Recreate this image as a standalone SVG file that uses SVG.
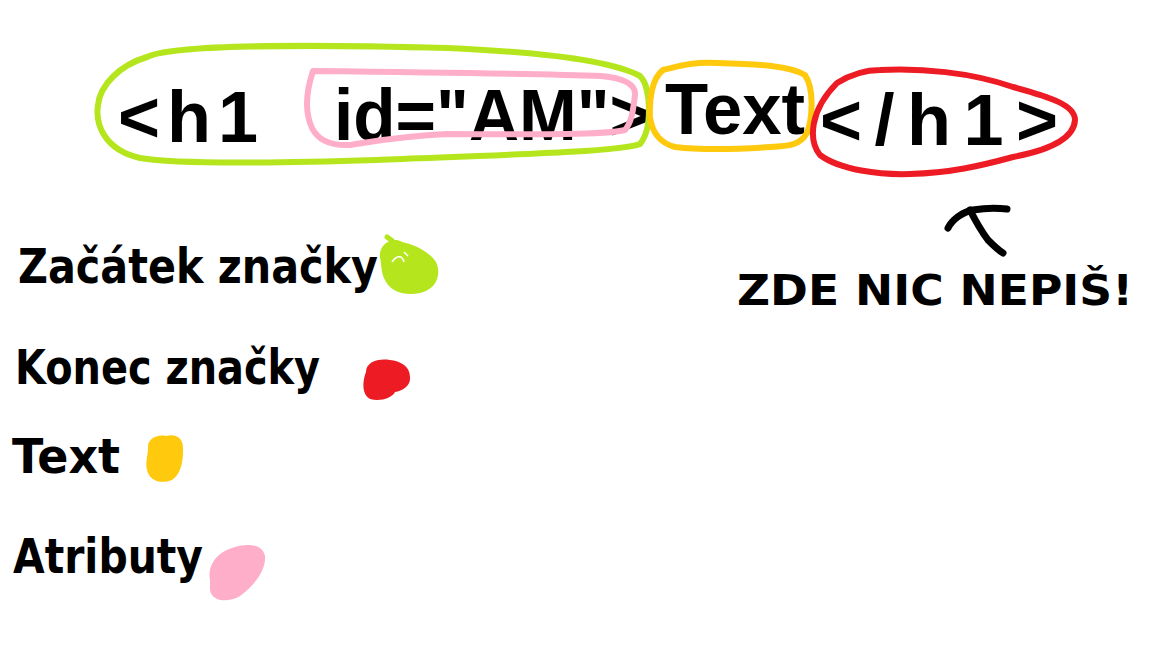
<svg xmlns="http://www.w3.org/2000/svg" width="1152" height="648" viewBox="0 0 1152 648">
<style>
.code{font-family:"Liberation Sans","DejaVu Sans",sans-serif;font-weight:bold;font-size:72px;fill:#000}
.lbl{font-family:"DejaVu Sans","Liberation Sans",sans-serif;font-weight:bold;fill:#000}
.loop{fill:none;stroke-width:6;stroke-linejoin:round;stroke-linecap:round}
.ink{fill:none;stroke:#000;stroke-width:7;stroke-linecap:round;stroke-linejoin:round}
</style>
<rect width="1152" height="648" fill="#fff"/>
<g id="code">
<text class="code" x="118" y="142" textLength="140" lengthAdjust="spacing">&lt;h1</text>
<text class="code" x="334" y="140" textLength="316" lengthAdjust="spacingAndGlyphs">id="AM"&gt;</text>
<text class="code" x="665" y="134" textLength="140" lengthAdjust="spacingAndGlyphs">Text</text>
<text class="code" x="820" y="145" textLength="238" lengthAdjust="spacing">&lt;/h1&gt;</text>
</g>
<g id="start-tag">
<path class="loop" stroke="#b5e61d" d="M147 57 C170 45 300 44 447 48 C540 52 610 60 640 76 C652 88 652 130 640 144 C620 152 500 155 376 160 C280 163 180 165 140 158 C105 150 95 125 98 105 C100 85 120 65 147 57 Z"/>
</g>
<g id="attributes">
<path class="loop" stroke="#ffaec9" d="M313 71 C400 72 550 74 601 76 C625 78 636 85 635 95 C633 110 632 122 625 130 C600 136 500 134 447 134 C400 136 370 142 350 145 C330 146 318 140 312 128 C306 115 305 95 313 71 Z"/>
</g>
<g id="text-content">
<path class="loop" stroke="#ffc90e" d="M663 70 C680 66 690 62 717 63 C760 64 790 66 805 75 C815 90 812 120 807 133 C800 145 790 146 770 147 C740 149 700 150 675 147 C660 143 652 133 650 117 C649 100 652 78 663 70 Z"/>
</g>
<g id="end-tag">
<path class="loop" stroke="#ed1c24" d="M837 83 C850 75 865 70 880 70 C920 68 970 72 1013 87 C1050 97 1075 105 1075 120 C1074 138 1050 150 1013 157 C980 166 950 173 910 174 C880 175 840 170 820 155 C808 140 810 110 837 83 Z"/>
</g>
<g id="connectors">
<path class="ink" d="M948 228 C952 220 962 212 973 210 C985 208 998 208 1007 209"/>
<path class="ink" d="M970 210 C976 222 982 232 988 240 C994 246 998 250 1003 253"/>
</g>
<g id="warning">
<text class="lbl" x="737" y="305" font-size="42" textLength="396" lengthAdjust="spacingAndGlyphs">ZDE NIC NEPIŠ!</text>
</g>
<g id="legend-start">
<text class="lbl" x="18" y="283" font-size="48" textLength="360" lengthAdjust="spacingAndGlyphs">Začátek značky</text>
<path fill="#b5e61d" d="M380 258 C378 245 392 236 402 242 C412 244 428 250 436 262 C442 275 436 290 420 293 C405 296 392 292 386 282 C380 272 382 264 380 258 Z"/>
<path d="M387 237 C392 240 396 244 398 250" stroke="#b5e61d" stroke-width="5" fill="none" stroke-linecap="round"/>
<path d="M392 262 C396 256 402 254 404 262 M404 252 L408 256" stroke="#fff" stroke-width="1.5" fill="none"/>
</g>
<g id="legend-end">
<text class="lbl" x="15" y="384" font-size="48" textLength="305" lengthAdjust="spacingAndGlyphs">Konec značky</text>
<path fill="#ed1c24" d="M366 372 C366 362 378 358 390 360 C400 361 410 366 410 377 C411 386 402 391 395 392 C392 398 380 402 370 399 C362 395 362 382 366 372 Z"/>
</g>
<g id="legend-text">
<text class="lbl" x="12" y="473" font-size="48" textLength="108" lengthAdjust="spacingAndGlyphs">Text</text>
<path fill="#ffc90e" d="M148 448 C147 440 156 434 166 436 C176 433 184 438 183 450 C183 462 181 474 172 480 C162 484 150 482 147 470 C145 462 148 455 148 448 Z"/>
</g>
<g id="legend-attributes">
<text class="lbl" x="13" y="573" font-size="48" textLength="190" lengthAdjust="spacingAndGlyphs">Atributy</text>
<path fill="#ffaec9" d="M210 580 C207 565 218 552 232 548 C245 543 262 543 265 556 C266 570 255 585 240 596 C228 603 212 602 210 590 Z"/>
</g>
</svg>
